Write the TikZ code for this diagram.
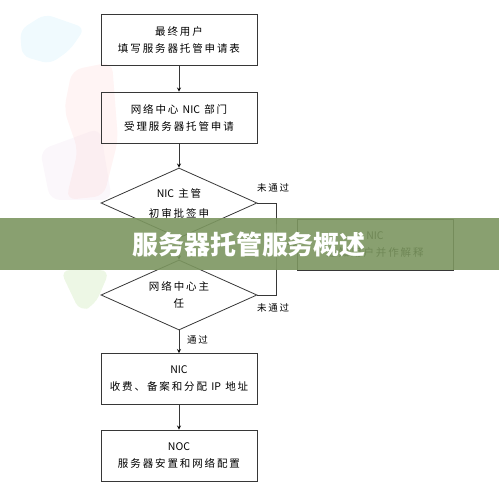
\documentclass[tikz,border=0pt]{standalone}
\usepackage{fontspec}
\newfontfamily\cjk[LetterSpace=18]{Noto Sans CJK SC}
\newfontfamily\cjktitle{Noto Sans CJK SC}
\newcommand\lat[1]{{\cjktitle #1}}
\usetikzlibrary{positioning,shapes.geometric}

\definecolor{bannergreen}{RGB}{124,150,96}
\definecolor{linegray}{RGB}{55,55,55}

\tikzset{
  box/.style = {draw=linegray, line width=0.9pt, minimum width=156pt,
                minimum height=51pt, align=center, inner sep=0pt},
  dec/.style = {diamond, draw=linegray, line width=0.8pt, aspect=2.2,
                minimum width=156pt, minimum height=70pt, align=center,
                inner sep=0pt},
  lab/.style = {font=\cjk\fontsize{9.5}{12}\selectfont, anchor=west, inner sep=0pt}
}

\begin{document}
\begin{tikzpicture}
	[x=1pt, y=-1pt, >=stealth, on grid, node distance=78pt,
	 font=\cjk\fontsize{10.5}{17}\selectfont]
\useasboundingbox (0,0) rectangle (499,492);

% faint puzzle pieces behind the chart
\fill[cyan!30, opacity=0.2, rounded corners=8pt]
	(20,30) -- (45,14) -- (85,28) -- (70,50) -- (50,64) -- (22,56) -- cycle;
\fill[red!30, opacity=0.15, rounded corners=10pt]
	(72,70) -- (112,62) -- (118,140) -- (104,196) -- (66,200) -- (78,150) -- (64,110) -- cycle;
\fill[violet!20, opacity=0.15, rounded corners=10pt]
	(40,150) -- (100,128) -- (112,200) -- (50,200) -- cycle;
\fill[green!40!olive, opacity=0.1, rounded corners=10pt]
	(60,270) -- (110,270) -- (95,305) -- (80,312) -- cycle;

\node[box](b_1) at (179,39.5) {最终用户\\填写服务器托管申请表};
\node[box](b_2)[below = 78pt of b_1] {网络中心 \lat{NIC} 部门\\受理服务器托管申请};
\node[dec](d_1)[below = 85.5pt of b_2] {\lat{NIC} 主管\\[3pt]初审批签申};
\node[dec](d_2)[below = 92pt of d_1] {网络中心主\\任};
\node[box](b_3)[below = 84pt of d_2] {\lat{NIC}\\收费、备案和分配 \lat{IP} 地址};
\node[box](b_4)[below = 76.5pt of b_3] {\lat{NOC}\\服务器安置和网络配置};
\node[box](b_5) at (375,244.5) {\lat{NIC}\\通知用户并作解释};
\coordinate (bend) at (276,244.5);

\path[->, draw=linegray, line width=0.8pt]
	(b_1) edge (b_2)
	(b_2) edge (d_1)
	(d_1) edge (d_2)
	(d_2) edge (b_3)
	(b_3) edge (b_4)
	(bend) edge (b_5);
\draw[linegray, line width=0.8pt] (d_1.east) -| (bend) |- (d_2.east);

\node[lab] (no_1) at (257,188) {未通过};
\node[lab] (no_2) at (257,308) {未通过};
\node[lab] (yes) at (187,340) {通过};

% title banner
\fill[bannergreen, opacity=0.9] (0,218) rectangle (499,270);
\node[text=white, font=\cjktitle\bfseries\fontsize{26}{26}\selectfont] (title) at (249,245) {服务器托管服务概述};
\end{tikzpicture}
\end{document}
